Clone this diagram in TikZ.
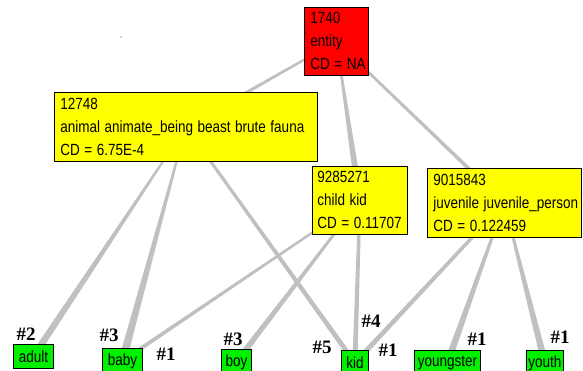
\documentclass[tikz,border=0pt]{standalone}
\usepackage{graphicx}
\usepackage{fontspec}
\setmainfont{Liberation Sans}
\newfontfamily\labfont{Liberation Serif}
\usetikzlibrary{calc}
\pgfdeclarelayer{background}
\pgfsetlayers{background,main}
\definecolor{edgegray}{RGB}{192,192,192}
\definecolor{boxyellow}{RGB}{255,255,0}
\definecolor{boxred}{RGB}{255,0,0}
\definecolor{boxgreen}{RGB}{0,240,0}
\newcommand\tall[1]{\scalebox{1}[1.2]{#1}}
\newcommand\edgewedge[4]{%
  \fill[edgegray] ($(#1.center)!#3!90:(#2.center)$) -- ($(#2.center)!#4!-90:(#1.center)$)
    -- ($(#2.center)!#4!90:(#1.center)$) -- ($(#1.center)!#3!-90:(#2.center)$) -- cycle;}
\tikzset{
  box/.style={draw=black, line width=0.8pt, rectangle, anchor=north west,
    inner xsep=6pt, inner ysep=0pt, align=left,
    font=\fontsize{13.5}{23}\selectfont},
  info/.style={box, fill=boxyellow},
  rootbox/.style={box, fill=boxred},
  leaf/.style={draw=black, line width=0.8pt, rectangle, fill=boxgreen, anchor=north west,
    inner sep=0pt, minimum height=25pt, font=\fontsize{13.5}{16}\selectfont},
  rank/.style={inner sep=0pt, font=\labfont\bfseries\fontsize{19}{19}\selectfont},
}
\begin{document}
\begin{tikzpicture}[x=1pt,y=-1pt]
\useasboundingbox (0,0) rectangle (583,371);
% boxes
\node[rootbox, text width=52pt, minimum height=68pt] (entity) at (304,7)
  {\tall{1740}\\\tall{entity}\\\tall{CD = NA}};
\node[info, text width=251pt, minimum height=69pt] (animal) at (54,92)
  {\tall{12748}\\\tall{animal animate\_being beast brute fauna}\\\tall{CD = 6.75E-4}};
\node[info, inner xsep=5pt, text width=85pt, minimum height=68pt] (child) at (312,166)
  {\tall{9285271}\\\tall{child kid}\\\tall{CD = 0.11707}};
\node[info, text width=142pt, minimum height=69pt] (juvenile) at (427,168)
  {\tall{9015843}\\\tall{juvenile juvenile\_person}\\\tall{CD = 0.122459}};
% leaves
\node[leaf, minimum width=40pt, minimum height=24pt] (adult) at (13,344) {\tall{adult}};
\node[leaf, minimum width=40pt] (baby) at (102,348) {\tall{baby}};
\node[leaf, minimum width=30pt] (boy) at (221,349) {\tall{boy}};
\node[leaf, minimum width=27pt] (kid) at (341,350) {\tall{kid}};
\node[leaf, minimum width=66pt] (youngster) at (414,350) {\tall{youngster}};
\node[leaf, minimum width=37pt] (youth) at (526,350) {\tall{youth}};
% rank labels
\node[rank] (r1) at (26,334) {\#2};
\node[rank] (r2) at (109,335) {\#3};
\node[rank] (r3) at (166,354) {\#1};
\node[rank] (r4) at (233,339) {\#3};
\node[rank] (r5) at (322,347) {\#5};
\node[rank] (r6) at (371,321) {\#4};
\node[rank] (r7) at (388,350) {\#1};
\node[rank] (r8) at (477,339) {\#1};
\node[rank] (r9) at (560,337) {\#1};
% connectors
\begin{pgfonlayer}{background}
\fill[white] (0,0) rectangle (583,371);
\fill[black!70] (121,37) circle (0.6pt);
\edgewedge{entity}{animal}{1pt}{2pt}
\edgewedge{entity}{child}{0.7pt}{3.6pt}
\edgewedge{entity}{juvenile}{1.2pt}{2pt}
\edgewedge{animal}{adult}{0.7pt}{3.5pt}
\edgewedge{animal}{baby}{0.7pt}{4pt}
\edgewedge{animal}{kid}{1.3pt}{2.5pt}
\edgewedge{child}{baby}{1pt}{2pt}
\edgewedge{child}{boy}{1pt}{3pt}
\edgewedge{child}{kid}{1.5pt}{2.5pt}
\edgewedge{juvenile}{kid}{1.5pt}{2.5pt}
\edgewedge{juvenile}{youngster}{1pt}{3.5pt}
\edgewedge{juvenile}{youth}{1pt}{3.5pt}
\end{pgfonlayer}
\end{tikzpicture}
\end{document}
